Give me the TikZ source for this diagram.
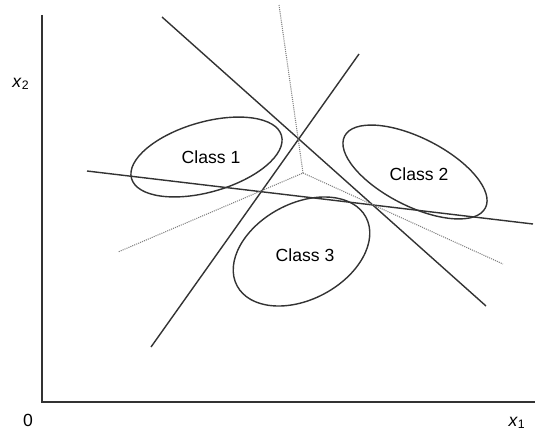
\documentclass[tikz,border=0pt]{standalone}
\usepackage{fontspec}
\setmainfont{Liberation Sans}
\begin{document}
\begin{tikzpicture}[line width=0.8pt,
  boundary/.style={black!80},
  bisector/.style={black!50, line width=0.6pt, dash pattern=on 0.6pt off 0.6pt},
  cls/.style={font=\fontsize{10}{12}\selectfont}]
\useasboundingbox (0,0) rectangle (10.72,8.68);
% axes:
\coordinate (o) at (0.84,0.64);
\coordinate (ytop) at (0.84,8.38);
\coordinate (xend) at (10.70,0.64);
\draw[boundary] (ytop) -- (o) -- (xend);
\node (zero) at (0.56,0.28) {0};
\node (xone) at (10.34,0.22) {\textit{x}\textsubscript{1}};
\node (xtwo) at (0.42,7.00) {\textit{x}\textsubscript{2}};
% decision boundaries:
\coordinate (a1) at (3.24,8.34); \coordinate (a2) at (9.72,2.56);
\coordinate (b1) at (3.02,1.74); \coordinate (b2) at (7.18,7.60);
\coordinate (c1) at (1.74,5.26); \coordinate (c2) at (10.66,4.20);
\draw[boundary] (a1) -- (a2);
\draw[boundary] (b1) -- (b2);
\draw[boundary] (c1) -- (c2);
% dotted lines:
\coordinate (m) at (6.06,5.22);
\coordinate (mup) at (5.58,8.58);
\coordinate (mleft) at (2.36,3.64);
\coordinate (mright) at (10.06,3.40);
\draw[bisector] (mup) -- (m) -- (mleft);
\draw[bisector] (m) -- (mright);
% classes:
\coordinate (k1) at (4.13,5.54);
\coordinate (k2) at (8.30,5.24);
\coordinate (k3) at (6.03,3.65);
\draw[boundary, rotate around={16:(k1)}] (k1) ellipse [x radius=1.56, y radius=0.70];
\draw[boundary, rotate around={-27:(k2)}] (k2) ellipse [x radius=1.58, y radius=0.68];
\draw[boundary, rotate around={28:(k3)}] (k3) ellipse [x radius=1.46, y radius=0.96];
\node[cls] (class1) at (4.22,5.54) {Class 1};
\node[cls] (class2) at (8.38,5.20) {Class 2};
\node[cls] (class3) at (6.10,3.58) {Class 3};
\end{tikzpicture}
\end{document}
